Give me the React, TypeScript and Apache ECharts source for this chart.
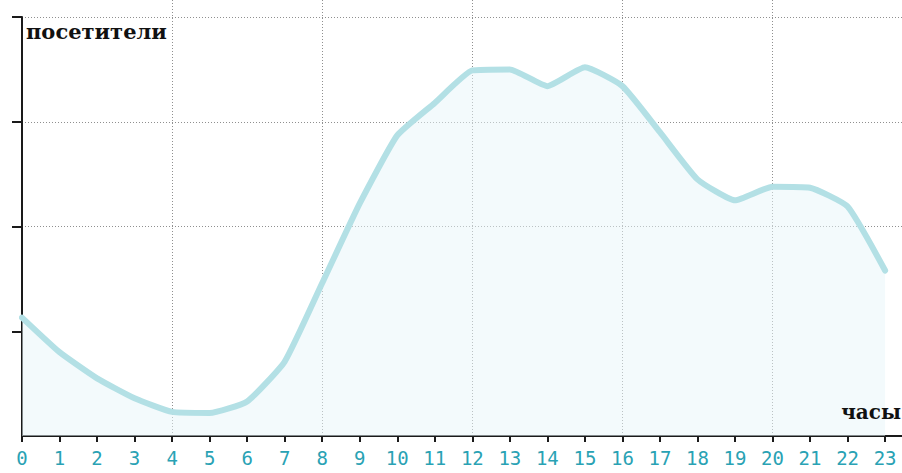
import React, { useEffect, useRef } from "react";
import * as echarts from "echarts";

const hours: number[] = [0,1,2,3,4,5,6,7,8,9,10,11,12,13,14,15,16,17,18,19,20,21,22,23];
const visitors: number[] = [1.13,0.80,0.55,0.36,0.23,0.22,0.33,0.71,1.46,2.22,2.87,3.18,3.49,3.50,3.34,3.52,3.34,2.90,2.45,2.25,2.38,2.37,2.19,1.58];
const yTicks: number[] = [1, 2, 3, 4];
const yName = "посетители";
const xName = "часы";

export default function App() {
  const ref = useRef<HTMLDivElement>(null);
  useEffect(() => {
    if (!ref.current) return;
    const chart = echarts.init(ref.current, null, { renderer: "svg" });
    const xMax = 23.45;
    const dotted = { color: "#8f8f8f", width: 1, type: [1, 2] as any };
    chart.setOption({
      animation: false,
      backgroundColor: "#ffffff",
      grid: [
        { left: 22, right: 0, top: 17, bottom: 37 },
        { left: 22, right: 0, top: 0, bottom: 37 },
      ],
      xAxis: [
        {
          type: "value", gridIndex: 0, min: 0, max: xMax, interval: 1,
          axisLine: { show: true, lineStyle: { color: "#1a1a1a", width: 2 } },
          axisTick: { show: true, length: 6, customValues: hours, lineStyle: { color: "#1a1a1a", width: 2 } },
          axisLabel: {
            customValues: hours, margin: 12, color: "#29a2b4",
            fontFamily: "DejaVu Sans Mono", fontSize: 19,
            formatter: (v: number) => String(v),
          },
          splitLine: { show: false },
        },
        {
          type: "value", gridIndex: 1, min: 0, max: xMax, interval: 4,
          axisLine: { show: false }, axisTick: { show: false }, axisLabel: { show: false },
          splitLine: { show: true, showMinLine: false, showMaxLine: false, lineStyle: dotted },
        },
      ],
      yAxis: [
        {
          type: "value", gridIndex: 0, min: 0, max: 4, interval: 1,
          axisLine: { show: true, lineStyle: { color: "#1a1a1a", width: 2 } },
          axisTick: { show: true, length: 10, customValues: yTicks, lineStyle: { color: "#1a1a1a", width: 2 } },
          axisLabel: { show: false },
          splitLine: { show: true, showMinLine: false, lineStyle: dotted },
        },
        {
          type: "value", gridIndex: 1, min: 0, max: 1,
          show: false,
          splitLine: { show: false },
        },
      ],
      series: [
        {
          type: "line",
          xAxisIndex: 0, yAxisIndex: 0,
          data: hours.map((h, i) => [h, visitors[i]]),
          showSymbol: false,
          smooth: 0.15,
          lineStyle: { color: "#b3e0e5", width: 6, join: "round", cap: "round" },
          areaStyle: { color: "rgba(232,245,250,0.72)", origin: "start" },
          z: 3,
        },
      ],
      graphic: [
        {
          type: "text", left: 26, top: 21, z: 10,
          style: { text: yName, fill: "#111", font: "bold 21px 'DejaVu Serif'" },
        },
        {
          type: "text", right: 1, top: 402, z: 10,
          style: { text: xName, fill: "#111", font: "bold 20px 'DejaVu Serif'" },
        },
      ],
    });
    return () => chart.dispose();
  }, []);
  return (
    <div
      ref={ref}
      style={{ position: "fixed", left: 0, top: 0, width: 902, height: 473 }}
    />
  );
}
